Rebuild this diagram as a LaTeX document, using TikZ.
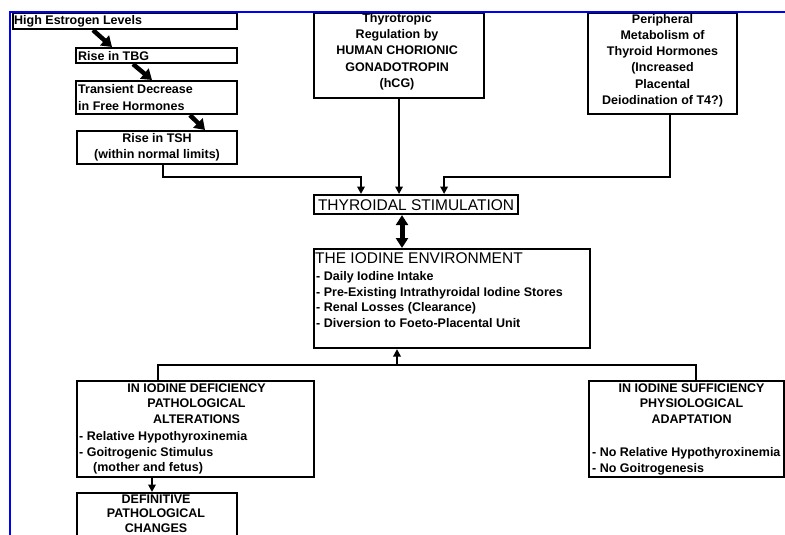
\documentclass[tikz,border=0pt]{standalone}
\usepackage{fontspec}
\setmainfont{Liberation Sans}
\usetikzlibrary{arrows.meta,calc}
\definecolor{bord}{RGB}{0,0,245}
\begin{document}
\begin{tikzpicture}[x=1pt,y=-1pt,
  box/.style={draw=black, line width=2.1pt, inner sep=0pt, anchor=north west},
  conn/.style={draw=black, line width=2.1pt},
  arr/.style={conn, -{Triangle[length=7.5pt,width=7.5pt]}},
  fat/.style={draw=black, line width=4.5pt, -{Triangle[length=10pt,width=13pt]}},
  dfat/.style={draw=black, line width=5pt, {Triangle[length=10pt,width=12pt]}-{Triangle[length=10pt,width=12pt]}},
  txt/.style={font=\fontsize{12.5}{16.3}\selectfont\bfseries, inner sep=0pt},
  txtb/.style={font=\fontsize{12.5}{15.5}\selectfont\bfseries, inner sep=0pt},
  big/.style={font=\fontsize{15.5}{18}\selectfont, inner sep=0pt}]
\useasboundingbox (0,0) rectangle (785,535);
\clip (0,0) rectangle (785,535);
\fill[white] (0,0) rectangle (785,535);

% boxes
\node[box, minimum width=224pt, minimum height=16pt] (est) at (12,12) {};
\node[box, minimum width=161pt, minimum height=15pt] (rtbg) at (75,47) {};
\node[box, minimum width=161pt, minimum height=33pt] (tdec) at (75,80) {};
\node[box, minimum width=160pt, minimum height=33pt] (rtsh) at (76,130) {};
\node[box, minimum width=170pt, minimum height=85pt] (hcg) at (313,12) {};
\node[box, minimum width=149pt, minimum height=101pt] (peri) at (587,12) {};
\node[box, minimum width=204pt, minimum height=19pt] (thyr) at (313,194) {};
\node[box, minimum width=276pt, minimum height=99pt] (env) at (313,248) {};
\node[box, minimum width=237pt, minimum height=96pt] (def) at (76,380) {};
\node[box, minimum width=195pt, minimum height=96pt] (suf) at (588,380) {};
\node[box, minimum width=160pt, minimum height=70pt] (dfn) at (76,492) {};

% texts
\node[txt, anchor=west] (t-est) at ($(est.west)+(2,0.5)$) {High Estrogen Levels};
\node[txt, anchor=west] (t-rtbg) at ($(rtbg.west)+(3,0)$) {Rise in TBG};
\node[txt, anchor=west, align=left] (t-tdec) at ($(tdec.west)+(3,0)$) {Transient Decrease\\in Free Hormones};
\node[txt, align=center] (t-rtsh) at ($(rtsh.center)+(0,-0.5)$) {Rise in TSH\\(within normal limits)};
\node[txt, align=center] (t-hcg) at ($(hcg.center)+(-2,-4)$) {Thyrotropic\\Regulation by\\HUMAN CHORIONIC\\GONADOTROPIN\\(hCG)};
\node[txt, align=center] (t-peri) at ($(peri.center)+(0,-3)$) {Peripheral\\Metabolism of\\Thyroid Hormones\\(Increased\\Placental\\Deiodination of T4?)};
\node[big] (t-thyr) at ($(thyr.center)+(0,0.5)$) {THYROIDAL STIMULATION};
\node[big, anchor=west] (t-env) at ($(env.north west)+(2,10.5)$) {THE IODINE ENVIRONMENT};
\node[txtb, anchor=north west, align=left] (t-envi) at ($(env.north west)+(3,23.5)$)
  {- Daily Iodine Intake\\- Pre-Existing Intrathyroidal Iodine Stores\\- Renal Losses (Clearance)\\- Diversion to Foeto-Placental Unit};
\node[txtb, anchor=north, align=center] (t-def) at ($(def.north)+(1,3.5)$) {IN IODINE DEFICIENCY\\PATHOLOGICAL\\ALTERATIONS};
\node[txtb, anchor=north west, align=left] (t-defi) at ($(def.north west)+(3,51.5)$) {- Relative Hypothyroxinemia\\- Goitrogenic Stimulus\\\hspace*{14pt}(mother and fetus)};
\node[txtb, anchor=north, align=center] (t-suf) at ($(suf.north)+(5,3.5)$) {IN IODINE SUFFICIENCY\\PHYSIOLOGICAL\\ADAPTATION};
\node[txtb, anchor=north west, align=left] (t-sufi) at ($(suf.north west)+(4,67.5)$) {- No Relative Hypothyroxinemia\\- No Goitrogenesis};
\node[anchor=north, align=center, inner sep=0pt, font=\fontsize{12.5}{14.6}\selectfont\bfseries] (t-dfn) at ($(dfn.north)+(-1,2.5)$) {DEFINITIVE\\PATHOLOGICAL\\CHANGES};

% fat arrows in the left cascade
\draw[fat] ($(est.south west)+(81,0)$) -- ($(rtbg.north west)+(37,0)$);
\draw[fat] ($(rtbg.south west)+(58,0)$) -- ($(tdec.north west)+(77,0)$);
\draw[fat] ($(tdec.south west)+(115,0)$) -- ($(rtsh.north west)+(129,0)$);

% connectors into thyroidal stimulation
\coordinate (lvl) at (0,177);
\coordinate (a1) at ($(rtsh.south)+(6,0)$);
\coordinate (b1) at ($(thyr.north west)+(48,0)$);
\draw[arr] (a1) -- (a1 |- lvl) -| (b1);
\draw[arr] (hcg.south) -- (hcg.south |- thyr.north);
\coordinate (a3) at ($(peri.south)+(7,0)$);
\coordinate (b3) at ($(thyr.north east)+(-75,0)$);
\draw[arr] (a3) -- (a3 |- lvl) -| (b3);

% double arrow
\coordinate (d1) at ($(thyr.south west)+(89,0)$);
\draw[dfat] (d1) -- (d1 |- env.north);

% bottom split
\coordinate (split) at ($(env.south west)+(84,16)$);
\draw[arr] (split) -- (split |- env.south);
\coordinate (e1) at ($(def.north west)+(82,0)$);
\coordinate (e2) at ($(suf.north west)+(108,0)$);
\draw[conn] (e1) |- (split) -| (e2);
\coordinate (f1) at ($(def.south west)+(76,0)$);
\draw[arr] (f1) -- (f1 |- dfn.north);

% blue frame
\draw[bord, line width=2.5pt] (10,540) -- (10,12) -- (790,12);
\end{tikzpicture}
\end{document}
